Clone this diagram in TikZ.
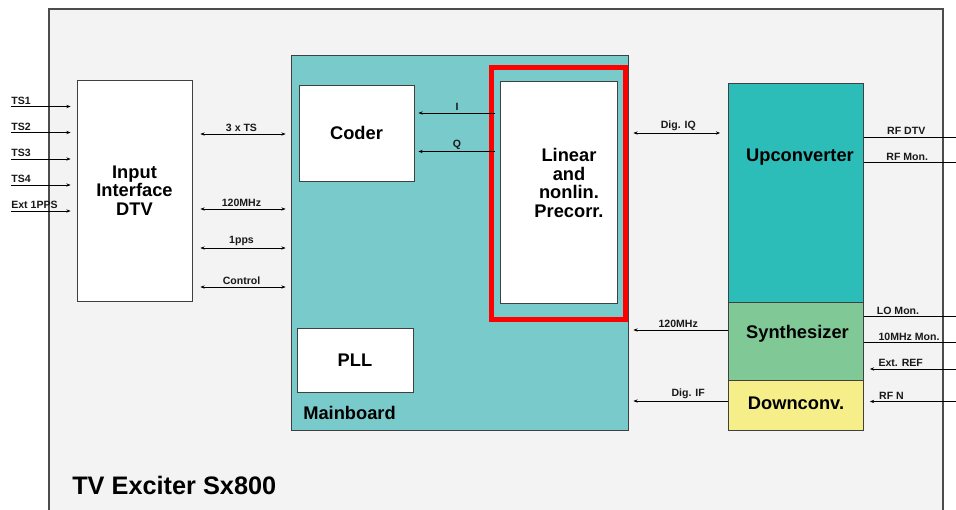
\documentclass[tikz,border=0pt]{standalone}
\usepackage{fontspec}
\setmainfont{Liberation Sans}
\usetikzlibrary{arrows.meta}

\definecolor{bggray}{HTML}{F3F3F3}
\definecolor{mainteal}{HTML}{79CBCB}
\definecolor{upcteal}{HTML}{2DBDB9}
\definecolor{synthgreen}{HTML}{80C896}
\definecolor{downyellow}{HTML}{F6EE88}
\definecolor{framered}{HTML}{FF0000}

\newcommand{\px}{0.025cm}
\newcommand{\lblfont}{\fontsize{7.5}{8}\selectfont\bfseries}
\newcommand{\blkfont}{\fontsize{13}{13.2}\selectfont\bfseries}

\tikzset{
  block/.style={draw=black!75, line width=0.6pt, inner sep=0pt, font=\blkfont, align=center},
  sig/.style={line width=0.5pt, -{Stealth[length=3pt,width=2.4pt]}},
  bisig/.style={line width=0.5pt, {Stealth[length=3pt,width=2.4pt]}-{Stealth[length=3pt,width=2.4pt]}},
  wire/.style={line width=0.6pt},
  lbl/.style={font=\lblfont, text=black!90, inner sep=1.3pt}
}

\begin{document}
\begin{tikzpicture}[x=0.025cm, y=-0.025cm]

        \useasboundingbox (0,0) rectangle (956,510);

        % outer frame
        \fill[bggray] (49,9) rectangle (943,510);
        \draw[black!70, line width=0.8pt] (49,510) -- (49,9) -- (943,9) -- (943,510);

        % blocks
        \node[block, fill=white, minimum width=115*\px, minimum height=221*\px] (inp) at (134.5,190.5) {Input\\Interface\\DTV};

        \node[block, fill=mainteal, minimum width=337*\px, minimum height=375*\px] (main) at (459.5,242.5) {};
        \node[font=\blkfont, anchor=base west, inner sep=0pt] (mainlbl) at (303,420) {Mainboard};

        \node[block, fill=white, minimum width=115*\px, minimum height=96*\px] (coder) at (356.5,133) {Coder};
        \node[block, fill=white, minimum width=116*\px, minimum height=64*\px] (pll) at (355,360) {PLL};

        \node[draw=framered, line width=5*\px, inner sep=0pt, minimum width=134*\px, minimum height=252*\px] (redframe) at (558.5,193.5) {};
        \node[block, fill=white, minimum width=117*\px, minimum height=222*\px] (lin) at (558.5,192) {};
        \node[font=\blkfont, align=center] (lintxt) at (569,183) {Linear\\and\\nonlin.\\Precorr.};

        \node[block, fill=upcteal, minimum width=135*\px, minimum height=219*\px] (upc) at (796,192.5) {};
        \node[font=\blkfont] (upctxt) at (800,157) {Upconverter};
        \node[block, fill=synthgreen, minimum width=135*\px, minimum height=78*\px] (syn) at (796,341.5) {};
        \node[font=\blkfont] (syntxt) at (797.5,334) {Synthesizer};
        \node[block, fill=downyellow, minimum width=135*\px, minimum height=50*\px] (down) at (796,405.5) {};
        \node[font=\blkfont] (downtxt) at (796,403) {Downconv.};

        \node[font=\fontsize{18}{20}\selectfont\bfseries, anchor=base west, inner sep=0pt] (title) at (72,495) {TV Exciter Sx800};

        % inputs on the left
        \coordinate (ts1) at (11,106.5);
        \coordinate (ts2) at (11,132.5);
        \coordinate (ts3) at (11,159);
        \coordinate (ts4) at (11,185);
        \coordinate (pps) at (11,211);
        \draw[sig, shorten >=0.15cm] (ts1) node[lbl, anchor=south west, inner xsep=0pt] {TS1} -- (inp.west |- ts1);
        \draw[sig, shorten >=0.15cm] (ts2) node[lbl, anchor=south west, inner xsep=0pt] {TS2} -- (inp.west |- ts2);
        \draw[sig, shorten >=0.15cm] (ts3) node[lbl, anchor=south west, inner xsep=0pt] {TS3} -- (inp.west |- ts3);
        \draw[sig, shorten >=0.15cm] (ts4) node[lbl, anchor=south west, inner xsep=0pt] {TS4} -- (inp.west |- ts4);
        \draw[sig, shorten >=0.15cm] (pps) node[lbl, anchor=south west, inner xsep=0pt] {Ext 1PPS} -- (inp.west |- pps);

        % input interface <-> mainboard
        \draw[bisig, shorten <=0.2cm, shorten >=0.125cm] (inp.east |- 0,134) -- node[lbl, above] {3 x TS} (main.west |- 0,134);
        \draw[bisig, shorten <=0.2cm, shorten >=0.125cm] (inp.east |- 0,209) -- node[lbl, above] {120MHz} (main.west |- 0,209);
        \draw[bisig, shorten <=0.2cm, shorten >=0.125cm] (inp.east |- 0,248) -- node[lbl, above] {1pps} (main.west |- 0,248);
        \draw[bisig, shorten <=0.2cm, shorten >=0.125cm] (inp.east |- 0,287) -- node[lbl, above] {Control} (main.west |- 0,287);

        % precorrection -> coder
        \draw[sig, shorten <=0.125cm, shorten >=0.1cm] (lin.west |- 0,113) -- node[lbl, above] {I} (coder.east |- 0,113);
        \draw[sig, shorten <=0.125cm, shorten >=0.1cm] (lin.west |- 0,151.5) -- node[lbl, above] {Q} (coder.east |- 0,151.5);

        % mainboard <-> rf part
        \draw[bisig, shorten <=0.125cm, shorten >=0.2cm] (main.east |- 0,133) -- node[lbl, above] {Dig. IQ} (upc.west |- 0,133);
        \draw[sig, shorten >=0.125cm] (syn.west |- 0,330) -- node[lbl, above] {120MHz} (main.east |- 0,330);
        \draw[sig, shorten >=0.125cm] (down.west |- 0,401) -- node[lbl, above, pos=0.4] {Dig. IF} (main.east |- 0,401);

        % outputs and inputs on the right
        \coordinate (rfdtv) at (956,137);
        \coordinate (rfmon) at (956,162.5);
        \coordinate (lomon) at (956,316.5);
        \coordinate (refmon) at (956,342.5);
        \coordinate (extref) at (956,369);
        \coordinate (rfn) at (956,401.5);
        \draw[wire] (upc.east |- rfdtv) -- node[lbl, above, pos=0.46] {RF DTV} (rfdtv);
        \draw[wire] (upc.east |- rfmon) -- node[lbl, above, pos=0.47] {RF Mon.} (rfmon);
        \draw[wire] (syn.east |- lomon) -- node[lbl, above, pos=0.37] {LO Mon.} (lomon);
        \draw[wire] (syn.east |- refmon) -- node[lbl, above, pos=0.49] {10MHz Mon.} (refmon);
        \draw[sig, shorten >=0.15cm] (extref) -- node[lbl, above, pos=0.6] {Ext. REF} (syn.east |- extref);
        \draw[sig, shorten >=0.15cm] (rfn) -- node[lbl, above, pos=0.7] {RF N} (down.east |- rfn);

    \end{tikzpicture}
\end{document}
